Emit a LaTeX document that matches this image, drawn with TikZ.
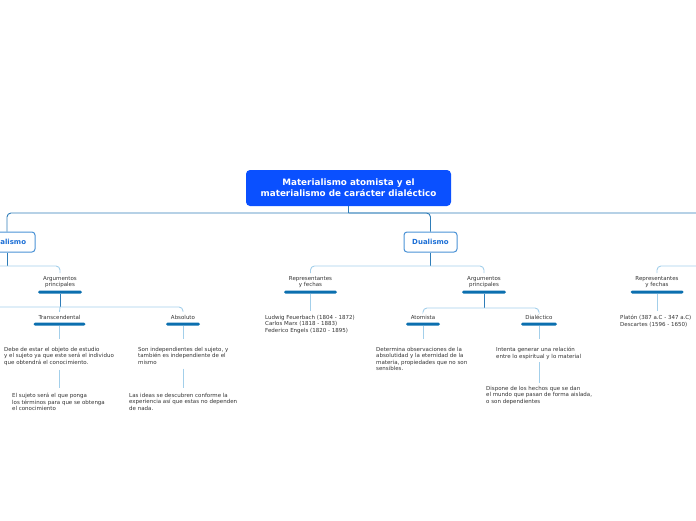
\documentclass[tikz,border=0pt]{standalone}
\usepackage{fontspec}
\setmainfont{DejaVu Sans}
\usetikzlibrary{positioning}

\definecolor{rootblue}{HTML}{0A50FF}
\definecolor{linkblue}{HTML}{2F7DB8}
\definecolor{paleblue}{HTML}{A3CFEA}
\definecolor{barblue}{HTML}{0B6FAF}
\definecolor{txtgray}{HTML}{333333}
\definecolor{boxblue}{HTML}{4A92D6}
\definecolor{labblue}{HTML}{1C6FD6}

\tikzset{
  rootbox/.style={fill=rootblue, rounded corners=4pt, text=white, align=center,
    font=\fontsize{8.8}{11}\selectfont\bfseries, minimum width=205, minimum height=36, inner sep=0},
  mainbox/.style={draw=boxblue, line width=1pt, fill=white, rounded corners=3pt, text=labblue,
    font=\fontsize{7}{8}\selectfont\bfseries, minimum width=54, minimum height=20, inner sep=0},
  topic/.style={text=txtgray, font=\fontsize{5.5}{6.5}\selectfont, align=center, inner sep=0, outer sep=3pt},
  bar/.style={fill=barblue, minimum width=#1, minimum height=3, inner sep=0, rounded corners=1.5pt},
  note/.style={text=txtgray, font=\fontsize{5.5}{6.5}\selectfont, align=left, inner sep=0, anchor=north west},
  link/.style={linkblue, line width=0.9pt, rounded corners=4pt},
  sublink/.style={paleblue, line width=0.9pt, rounded corners=4pt},
}

\begin{document}
\begin{tikzpicture}[x=1pt, y=-1pt]
  \useasboundingbox (0,0) rectangle (696,520);

  % raiz y ramas principales
  \node[rootbox] (root) at (348.5,188) {Materialismo atomista y el\\materialismo de carácter dialéctico};
  \node[mainbox, minimum width=56] (ideal) at (7,242) {Idealismo};
  \node[mainbox, minimum width=53] (dual) at (430.5,242) {Dualismo};
  \coordinate (hub) at (348.5,213);
  \coordinate (roff) at (710,213);

  \draw[link] (root) -- (hub);
  \draw[link] (ideal.north) |- (roff);
  \draw[link] (hub) -| (dual.north);

  % Idealismo
  \coordinate (ihub) at (7,266);
  \coordinate (ioff) at (-20,266);
  \node[topic] (argL) at (60,282) {Argumentos\\principales};
  \node[bar=44] (argLbar) at (60,292) {};
  \coordinate (lhub) at (60,307);
  \coordinate (loff) at (-20,307);
  \node[topic] (trL) at (59.5,317) {Transcendental};
  \node[bar=52] (trLbar) at (59.5,324) {};
  \node[topic] (abL) at (183,317) {Absoluto};
  \node[bar=34] (abLbar) at (183,324) {};

  \draw[link] (ideal) -- (ihub);
  \draw[sublink] (ioff) -| (argL.north);
  \draw[link] (argLbar) -- (lhub);
  \draw[sublink] (loff) -| (abL.north);
  \draw[sublink] (lhub) -- (trL.north);

  \node[note] (trnote) at (4,347) {Debe de estar el objeto de estudio\\y el sujeto ya que este será el individuo\\que obtendrá el conocimiento.};
  \node[note] (trnote2) at (12,393) {El sujeto será el que ponga\\los términos para que se obtenga\\el conocimiento};
  \node[note] (abnote) at (138,347) {Son independientes del sujeto, y\\también es independiente de el\\mismo};
  \node[note] (abnote2) at (129,393) {Las ideas se descubren conforme la\\experiencia así que estas no dependen\\de nada.};

  \draw[sublink, shorten >=8pt] (trLbar) -- (trLbar |- trnote.north);
  \draw[sublink, shorten <=4pt, shorten >=5pt] (trLbar |- trnote.south) -- (trLbar |- trnote2.north);
  \draw[sublink, shorten >=8pt] (abLbar) -- (abLbar |- abnote.north);
  \draw[sublink, shorten <=4pt, shorten >=5pt] (abLbar |- abnote.south) -- (abLbar |- abnote2.north);

  % Dualismo
  \coordinate (dhub) at (430.5,266);
  \node[topic] (repD) at (310.5,282) {Representantes\\y fechas};
  \node[bar=53] (repDbar) at (310.5,292) {};
  \node[topic] (argD) at (484,282) {Argumentos\\principales};
  \node[bar=44] (argDbar) at (484,292) {};
  \coordinate (ahub) at (484,308);
  \node[topic] (atD) at (423,317) {Atomista};
  \node[bar=34] (atDbar) at (423,324) {};
  \node[topic] (diD) at (539,317) {Dialéctico};
  \node[bar=36] (diDbar) at (539,324) {};

  \draw[link] (dual) -- (dhub);
  \draw[sublink] (repD.north) |- (dhub) -| (argD.north);
  \draw[link] (argDbar) -- (ahub);
  \draw[sublink] (atD.north) |- (ahub) -| (diD.north);

  \node[note] (repnote) at (265,315) {Ludwig Feuerbach (1804 - 1872)\\Carlos Marx (1818 - 1883)\\Federico Engels (1820 - 1895)};
  \node[note] (atnote) at (376,347) {Determina observaciones de la\\absolutidad y la eternidad de la\\materia, propiedades que no son\\sensibles.};
  \node[note] (dinote) at (496,347) {Intenta generar una relación\\entre lo espiritual y lo material};
  \node[note] (dinote2) at (486,386) {Dispone de los hechos que se dan\\el mundo que pasan de forma aislada,\\o son dependientes};

  \draw[sublink, shorten >=4pt] (repDbar) -- (repDbar |- repnote.north);
  \draw[sublink, shorten >=8pt] (atDbar) -- (atDbar |- atnote.north);
  \draw[sublink, shorten >=8pt] (diDbar) -- (diDbar |- dinote.north);
  \draw[sublink, shorten <=3pt, shorten >=3pt] (diDbar |- dinote.south) -- (diDbar |- dinote2.north);

  % rama derecha
  \coordinate (rhub) at (710,266);
  \node[topic] (repR) at (657,282) {Representantes\\y fechas};
  \node[bar=53] (repRbar) at (657,292) {};
  \node[note] (repRnote) at (620,315) {Platón (387 a.C - 347 a.C)\\Descartes (1596 - 1650)};

  \draw[sublink] (repR.north) |- (rhub);
  \draw[sublink, shorten >=4pt] (repRbar) -- (repRbar |- repRnote.north);
\end{tikzpicture}
\end{document}
